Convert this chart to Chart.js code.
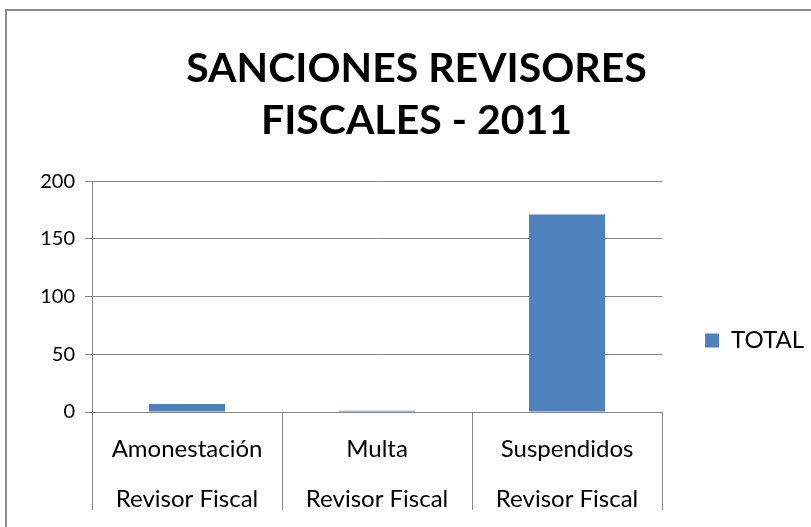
<!DOCTYPE html>
<html>
<head>
<meta charset="utf-8">
<script src="https://cdn.jsdelivr.net/npm/chart.js@4/dist/chart.umd.min.js"></script>
<style>
  html, body { margin: 0; padding: 0; background: #fff; }
  #wrap { position: relative; width: 811px; height: 527px; overflow: hidden; }
  #frame { position: absolute; left: 5px; top: 9px; width: 820px; height: 540px;
           border-top: 2px solid #8c8c8c; border-left: 2px solid #8c8c8c; }
  canvas { position: absolute; left: 0; top: 0; }
</style>
</head>
<body>
<div id="wrap">
  <div id="frame"></div>
  <canvas id="sancionesChart" width="811" height="527"></canvas>
</div>
<script>
// Datos
const categories = [
    ['Amonestación', 'Revisor Fiscal'],
    ['Multa', 'Revisor Fiscal'],
    ['Suspendidos', 'Revisor Fiscal']
];
const totalValues = [7, 1, 171];
const yTicks = [0, 50, 100, 150, 200];

const barColor = '#4F81BD';
const gridColor = '#868686';
const fontFamily = "Lato, 'Open Sans', sans-serif";

// Ajusta leyenda y título a la posición que tienen en el original
const boxOffsets = {
    id: 'boxOffsets',
    afterLayout(chart) {
        const lg = chart.legend;
        if (lg) {
            lg.left += 33; lg.right += 33;
            lg.top += 44; lg.bottom += 44;
        }
        const tb = chart.titleBlock;
        if (tb) {
            tb.left += 11; tb.right += 11;
        }
    }
};

document.addEventListener("DOMContentLoaded", function() {
    const ctx = document.getElementById('sancionesChart').getContext('2d');
    new Chart(ctx, {
        type: 'bar',
        data: {
            labels: categories,
            datasets: [{
                label: 'TOTAL',
                data: totalValues,
                backgroundColor: barColor,
                borderWidth: 0,
                categoryPercentage: 0.8,
                barPercentage: 0.5
            }]
        },
        options: {
            responsive: false,
            animation: false,
            layout: {
                padding: { top: 43, left: 30, right: 30, bottom: 15 }
            },
            plugins: {
                title: {
                    display: true,
                    text: ['SANCIONES REVISORES', 'FISCALES - 2011'],
                    color: '#000',
                    font: { family: fontFamily, size: 41, weight: 'bold', lineHeight: 1.27 },
                    padding: { top: 0, bottom: 34 }
                },
                legend: {
                    display: true,
                    position: 'right',
                    fullSize: false,
                    labels: {
                        color: '#000',
                        boxWidth: 14,
                        boxHeight: 14,
                        padding: 10,
                        font: { family: fontFamily, size: 24 }
                    }
                },
                tooltip: { enabled: false }
            },
            scales: {
                x: {
                    grid: {
                        display: true,
                        offset: true,
                        color: gridColor,
                        drawOnChartArea: false,
                        drawTicks: true,
                        tickLength: 98
                    },
                    border: { display: true, color: gridColor },
                    ticks: {
                        color: '#000',
                        padding: -86,
                        font: { family: fontFamily, size: 24, lineHeight: 2.08 }
                    },
                    afterFit: function(scale) { scale.height = 100; }
                },
                y: {
                    min: 0,
                    max: 200,
                    afterBuildTicks: function(scale) {
                        scale.ticks = yTicks.map(v => ({ value: v }));
                    },
                    grid: {
                        color: gridColor,
                        drawTicks: true,
                        tickLength: 7
                    },
                    border: { display: true, color: gridColor },
                    ticks: {
                        color: '#000',
                        padding: 10,
                        font: { family: fontFamily, size: 20 }
                    },
                    afterFit: function(scale) { scale.width = 62; }
                }
            }
        },
        plugins: [boxOffsets]
    });
});
</script>
</body>
</html>
